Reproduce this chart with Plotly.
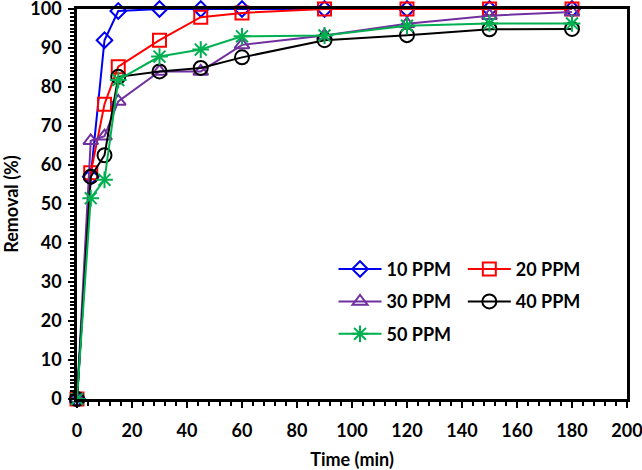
import plotly.graph_objects as go

time_min = [0, 5, 10, 15, 30, 45, 60, 90, 120, 150, 180]
ppm10 = [0, 57, 92, 99.5, 100, 100, 100, 100, 100, 100, 100]
ppm20 = [0, 58, 75.6, 85.2, 92, 97.9, 99, 100, 100, 100, 100]
ppm30 = [0, 66.2, 67.4, 76.3, 84, 84, 90.8, 93.2, 96.2, 98.3, 99.2]
ppm40 = [0, 57, 62.5, 82.6, 84, 84.9, 87.6, 92, 93.3, 94.8, 94.9]
ppm50 = [0, 51.5, 56.2, 81.8, 87.8, 89.6, 93, 93.2, 95.7, 96.3, 96.3]

series = [
    ("10 PPM", ppm10, "#0000F0", "diamond-open", 12, "legend"),
    ("20 PPM", ppm20, "#FF0000", "square-open", 13, "legend2"),
    ("30 PPM", ppm30, "#7030A0", "triangle-up-open", 13, "legend"),
    ("40 PPM", ppm40, "#000000", "circle-open", 14, "legend2"),
    ("50 PPM", ppm50, "#00B050", "asterisk-open", 14, "legend"),
]

FONT = "Lato"

fig = go.Figure()
for i, (name, vals, col, sym, sz, lg) in enumerate(series):
    fig.add_trace(go.Scatter(
        x=time_min, y=vals, name=name, mode="lines+markers",
        line=dict(color=col, width=2),
        marker=dict(symbol=sym, size=sz, color=col, line=dict(color=col, width=2)),
        cliponaxis=False, legend=lg, legendgroup=name,
    ))

legend_common = dict(
    font=dict(family=FONT, size=18, color="black", weight="bold"),
    bgcolor="rgba(0,0,0,0)", borderwidth=0, itemwidth=43,
    tracegroupgap=6, xanchor="left", yanchor="top",
)

axis_common = dict(
    showline=True, linecolor="black", linewidth=2.5, mirror=True,
    ticks="outside", ticklen=6, tickwidth=2, tickcolor="black",
    showgrid=False, zeroline=False, automargin=False,
    ticklabeloverflow="allow",
    tickfont=dict(family=FONT, size=18, color="black", weight="bold"),
    title_font=dict(family=FONT, size=18, color="black", weight="bold"),
)

fig.update_layout(
    template="none",
    width=642, height=470,
    margin=dict(l=77, r=15, t=9, b=71),
    paper_bgcolor="white", plot_bgcolor="white",
    showlegend=True,
    legend=dict(x=0.4664, y=0.38, **legend_common),
    legend2=dict(x=0.7015, y=0.38, **legend_common),
    xaxis=dict(range=[0, 200], dtick=20, title_text="Time (min)",
               minor=dict(dtick=4, ticks="outside", ticklen=4, tickwidth=2, tickcolor="black"),
               ticklabelstandoff=8, title_standoff=14, **axis_common),
    yaxis=dict(range=[0, 100], dtick=10, title_text="Removal (%)",
               minor=dict(dtick=1, ticks="outside", ticklen=4, tickwidth=2, tickcolor="black"),
               ticklabelstandoff=3, title_standoff=9, **axis_common),
)

fig.write_html("out.html", config={"displayModeBar": False},
               post_script="document.body.style.margin='0';")
